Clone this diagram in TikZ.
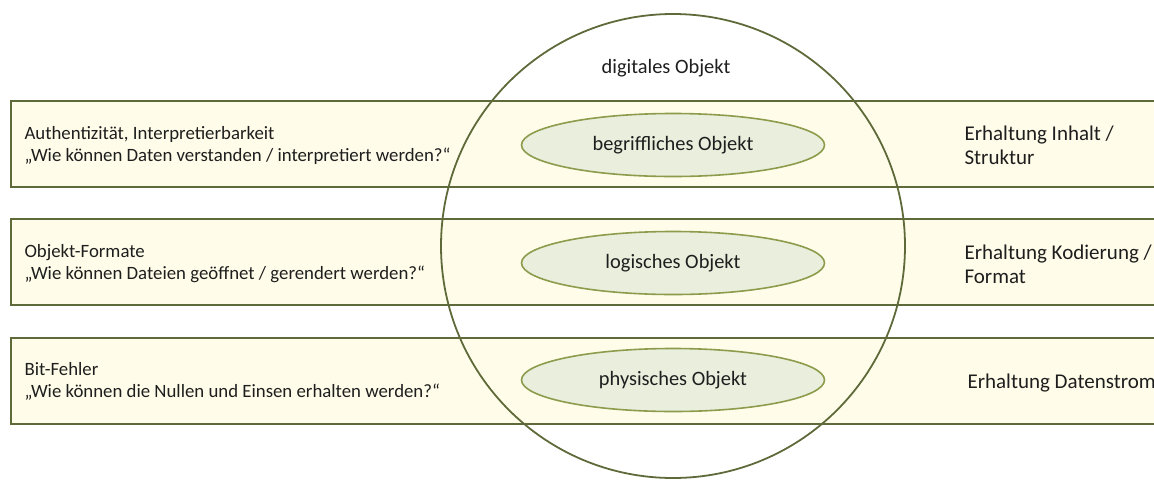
\documentclass[tikz,border=0pt]{standalone}
\usepackage{fontspec}
\setmainfont{Carlito}
\usetikzlibrary{positioning,shapes.geometric}
\definecolor{bandfill}{HTML}{FFFDE9}
\definecolor{bandline}{HTML}{5F6A3A}
\definecolor{ellfill}{HTML}{E9EEDD}
\definecolor{ellline}{HTML}{8C9C4C}
\definecolor{txt}{HTML}{1E1E1E}

\begin{document}
\begin{tikzpicture}[x=1pt, y=-1pt, font=\fontsize{20.4}{23}\selectfont, text=txt,
    band/.style={draw=bandline, line width=2.4pt, fill=bandfill, rectangle,
                 minimum width=1160pt, minimum height=86pt, anchor=north west},
    objell/.style={draw=ellline, line width=1.6pt, fill=ellfill, ellipse,
                   minimum width=303pt, minimum height=63pt},
    lefttxt/.style={anchor=west, align=left, font=\fontsize{18.8}{22}\selectfont},
    righttxt/.style={anchor=west, align=left, font=\fontsize{21}{24}\selectfont}]
        \useasboundingbox (0,0) rectangle (1154,483);
        %% Baender
        \node[band] (b1) at (10,100) {};
        \node[band] (b2) at (10,218) {};
        \node[band] (b3) at (10,337) {};
        %% digitales Objekt
        \node[draw=bandline, line width=1.8pt, circle, minimum size=464pt]
            (dig) at (673,246) {};
        \node (diglbl) at (666,68) {digitales Objekt};
        %% Objektebenen
        \node[objell] (begr) at (673,145) {begriffliches Objekt};
        \node[objell] (logi) at (673,263) {logisches Objekt};
        \node[objell] (phys) at (673,380) {physisches Objekt};
        %% linke Texte
        \node[lefttxt] (l1) at (21,145)
            {Authentizität, Interpretierbarkeit\\„Wie können Daten verstanden / interpretiert werden?“};
        \node[lefttxt] (l2) at (21,264)
            {Objekt-Formate\\„Wie können Dateien geöffnet / gerendert werden?“};
        \node[lefttxt] (l3) at (21,381)
            {Bit-Fehler\\„Wie können die Nullen und Einsen erhalten werden?“};
        %% rechte Texte
        \node[righttxt] (r1) at (961,145) {Erhaltung Inhalt /\\Struktur};
        \node[righttxt] (r2) at (961,264) {Erhaltung Kodierung /\\Format};
        \node[righttxt] (r3) at (964,383) {Erhaltung Datenstrom};
\end{tikzpicture}
\end{document}
